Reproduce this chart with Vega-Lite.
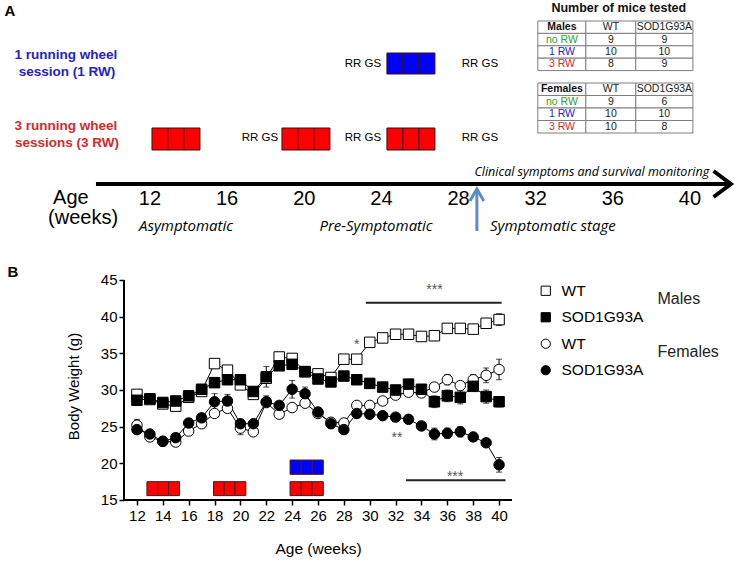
{
  "$schema": "https://vega.github.io/schema/vega-lite/v6.json",
  "width": 737,
  "height": 563,
  "autosize": {"type": "none"},
  "padding": 0,
  "background": "white",
  "config": {"view": {"stroke": null}, "font": "Liberation Sans"},
  "datasets": {
    "bw": [
      {"series":"Males WT","week":12,"value":29.4,"err":0.3},
      {"series":"Males WT","week":13,"value":28.7,"err":0.2},
      {"series":"Males WT","week":14,"value":28.1,"err":0.2},
      {"series":"Males WT","week":15,"value":27.8,"err":0.3},
      {"series":"Males WT","week":16,"value":29.0,"err":0.2},
      {"series":"Males WT","week":17,"value":29.8,"err":0.2},
      {"series":"Males WT","week":18,"value":33.6,"err":0.4},
      {"series":"Males WT","week":19,"value":32.7,"err":0.3},
      {"series":"Males WT","week":20,"value":30.7,"err":0.3},
      {"series":"Males WT","week":21,"value":29.4,"err":0.3},
      {"series":"Males WT","week":22,"value":31.6,"err":0.3},
      {"series":"Males WT","week":23,"value":34.5,"err":0.3},
      {"series":"Males WT","week":24,"value":34.3,"err":0.3},
      {"series":"Males WT","week":25,"value":32.5,"err":0.3},
      {"series":"Males WT","week":26,"value":32.2,"err":0.3},
      {"series":"Males WT","week":27,"value":31.7,"err":0.3},
      {"series":"Males WT","week":28,"value":34.2,"err":0.2},
      {"series":"Males WT","week":29,"value":34.2,"err":0.2},
      {"series":"Males WT","week":30,"value":36.5,"err":0.3},
      {"series":"Males WT","week":31,"value":37.1,"err":0.3},
      {"series":"Males WT","week":32,"value":37.6,"err":0.4},
      {"series":"Males WT","week":33,"value":37.6,"err":0.3},
      {"series":"Males WT","week":34,"value":37.3,"err":0.3},
      {"series":"Males WT","week":35,"value":37.4,"err":0.3},
      {"series":"Males WT","week":36,"value":38.4,"err":0.3},
      {"series":"Males WT","week":37,"value":38.4,"err":0.3},
      {"series":"Males WT","week":38,"value":38.3,"err":0.3},
      {"series":"Males WT","week":39,"value":39.1,"err":0.5},
      {"series":"Males WT","week":40,"value":39.6,"err":0.8},
      {"series":"Females WT","week":12,"value":25.2,"err":0.8},
      {"series":"Females WT","week":13,"value":23.6,"err":0.3},
      {"series":"Females WT","week":14,"value":23.0,"err":0.3},
      {"series":"Females WT","week":15,"value":22.9,"err":0.3},
      {"series":"Females WT","week":16,"value":24.4,"err":0.3},
      {"series":"Females WT","week":17,"value":25.4,"err":0.3},
      {"series":"Females WT","week":18,"value":26.8,"err":0.3},
      {"series":"Females WT","week":19,"value":27.5,"err":0.3},
      {"series":"Females WT","week":20,"value":24.8,"err":0.9},
      {"series":"Females WT","week":21,"value":24.3,"err":0.3},
      {"series":"Females WT","week":22,"value":28.3,"err":0.3},
      {"series":"Females WT","week":23,"value":26.7,"err":0.3},
      {"series":"Females WT","week":24,"value":27.6,"err":0.3},
      {"series":"Females WT","week":25,"value":28.2,"err":0.3},
      {"series":"Females WT","week":26,"value":26.8,"err":0.3},
      {"series":"Females WT","week":27,"value":25.6,"err":0.3},
      {"series":"Females WT","week":28,"value":25.5,"err":0.3},
      {"series":"Females WT","week":29,"value":27.9,"err":0.3},
      {"series":"Females WT","week":30,"value":27.9,"err":0.3},
      {"series":"Females WT","week":31,"value":28.5,"err":0.3},
      {"series":"Females WT","week":32,"value":29.3,"err":0.3},
      {"series":"Females WT","week":33,"value":29.7,"err":0.3},
      {"series":"Females WT","week":34,"value":29.6,"err":0.3},
      {"series":"Females WT","week":35,"value":30.4,"err":0.5},
      {"series":"Females WT","week":36,"value":31.4,"err":0.7},
      {"series":"Females WT","week":37,"value":30.6,"err":0.5},
      {"series":"Females WT","week":38,"value":31.4,"err":0.7},
      {"series":"Females WT","week":39,"value":32.0,"err":1.0},
      {"series":"Females WT","week":40,"value":32.8,"err":1.4},
      {"series":"Males SOD1G93A","week":12,"value":28.6,"err":0.3},
      {"series":"Males SOD1G93A","week":13,"value":28.8,"err":0.3},
      {"series":"Males SOD1G93A","week":14,"value":28.3,"err":0.3},
      {"series":"Males SOD1G93A","week":15,"value":28.5,"err":0.3},
      {"series":"Males SOD1G93A","week":16,"value":29.2,"err":0.3},
      {"series":"Males SOD1G93A","week":17,"value":30.1,"err":0.3},
      {"series":"Males SOD1G93A","week":18,"value":31.0,"err":0.5},
      {"series":"Males SOD1G93A","week":19,"value":31.4,"err":0.5},
      {"series":"Males SOD1G93A","week":20,"value":31.4,"err":0.5},
      {"series":"Males SOD1G93A","week":21,"value":29.8,"err":0.4},
      {"series":"Males SOD1G93A","week":22,"value":31.8,"err":1.4},
      {"series":"Males SOD1G93A","week":23,"value":33.3,"err":0.6},
      {"series":"Males SOD1G93A","week":24,"value":33.5,"err":0.4},
      {"series":"Males SOD1G93A","week":25,"value":32.5,"err":0.3},
      {"series":"Males SOD1G93A","week":26,"value":31.5,"err":0.3},
      {"series":"Males SOD1G93A","week":27,"value":31.1,"err":0.3},
      {"series":"Males SOD1G93A","week":28,"value":31.9,"err":0.3},
      {"series":"Males SOD1G93A","week":29,"value":31.4,"err":0.3},
      {"series":"Males SOD1G93A","week":30,"value":30.9,"err":0.3},
      {"series":"Males SOD1G93A","week":31,"value":30.4,"err":0.3},
      {"series":"Males SOD1G93A","week":32,"value":30.0,"err":0.3},
      {"series":"Males SOD1G93A","week":33,"value":30.8,"err":0.6},
      {"series":"Males SOD1G93A","week":34,"value":30.1,"err":0.5},
      {"series":"Males SOD1G93A","week":35,"value":28.4,"err":0.8},
      {"series":"Males SOD1G93A","week":36,"value":29.2,"err":0.8},
      {"series":"Males SOD1G93A","week":37,"value":29.0,"err":0.9},
      {"series":"Males SOD1G93A","week":38,"value":30.5,"err":0.6},
      {"series":"Males SOD1G93A","week":39,"value":29.1,"err":0.9},
      {"series":"Males SOD1G93A","week":40,"value":28.4,"err":0.7},
      {"series":"Females SOD1G93A","week":12,"value":24.6,"err":0.5},
      {"series":"Females SOD1G93A","week":13,"value":24.0,"err":0.3},
      {"series":"Females SOD1G93A","week":14,"value":23.0,"err":0.3},
      {"series":"Females SOD1G93A","week":15,"value":23.5,"err":0.3},
      {"series":"Females SOD1G93A","week":16,"value":25.5,"err":0.3},
      {"series":"Females SOD1G93A","week":17,"value":26.2,"err":0.4},
      {"series":"Females SOD1G93A","week":18,"value":28.4,"err":1.1},
      {"series":"Females SOD1G93A","week":19,"value":28.5,"err":0.9},
      {"series":"Females SOD1G93A","week":20,"value":25.4,"err":0.3},
      {"series":"Females SOD1G93A","week":21,"value":25.4,"err":0.5},
      {"series":"Females SOD1G93A","week":22,"value":28.4,"err":0.8},
      {"series":"Females SOD1G93A","week":23,"value":27.9,"err":0.3},
      {"series":"Females SOD1G93A","week":24,"value":30.1,"err":1.2},
      {"series":"Females SOD1G93A","week":25,"value":29.5,"err":0.9},
      {"series":"Females SOD1G93A","week":26,"value":27.0,"err":0.3},
      {"series":"Females SOD1G93A","week":27,"value":25.4,"err":0.3},
      {"series":"Females SOD1G93A","week":28,"value":24.6,"err":0.3},
      {"series":"Females SOD1G93A","week":29,"value":26.8,"err":0.3},
      {"series":"Females SOD1G93A","week":30,"value":26.7,"err":0.3},
      {"series":"Females SOD1G93A","week":31,"value":26.5,"err":0.3},
      {"series":"Females SOD1G93A","week":32,"value":26.3,"err":0.3},
      {"series":"Females SOD1G93A","week":33,"value":26.0,"err":0.5},
      {"series":"Females SOD1G93A","week":34,"value":25.1,"err":0.4},
      {"series":"Females SOD1G93A","week":35,"value":24.0,"err":0.8},
      {"series":"Females SOD1G93A","week":36,"value":24.1,"err":0.7},
      {"series":"Females SOD1G93A","week":37,"value":24.3,"err":0.7},
      {"series":"Females SOD1G93A","week":38,"value":23.6,"err":0.6},
      {"series":"Females SOD1G93A","week":39,"value":22.8,"err":0.5},
      {"series":"Females SOD1G93A","week":40,"value":19.8,"err":1.0}
    ],
    "axesB": [
      {"week":11,"value":15,"week2":41,"value2":15},
      {"week":11,"value":15,"week2":11,"value2":45}
    ],
    "sigBars": [
      {"week":29.7,"value":41.9,"week2":40.2,"value2":41.9},
      {"week":32.8,"value":17.7,"week2":40.5,"value2":17.7}
    ],
    "sigText": [
      {"label":"***","week":35.0,"value":43.6},
      {"label":"*","week":29.0,"value":36.2},
      {"label":"**","week":32.1,"value":23.4},
      {"label":"***","week":36.6,"value":18.2}
    ],
    "sexText": [
      {"label":"Males","week":52.25,"value":42.4},
      {"label":"Females","week":52.25,"value":35.2}
    ],
    "blocksB": [
      {"session":"3 RW","week":12.77,"week2":13.61,"value":15.6,"value2":17.5},
      {"session":"3 RW","week":13.61,"week2":14.45,"value":15.6,"value2":17.5},
      {"session":"3 RW","week":14.45,"week2":15.29,"value":15.6,"value2":17.5},
      {"session":"3 RW","week":17.92,"week2":18.75,"value":15.6,"value2":17.5},
      {"session":"3 RW","week":18.75,"week2":19.58,"value":15.6,"value2":17.5},
      {"session":"3 RW","week":19.58,"week2":20.42,"value":15.6,"value2":17.5},
      {"session":"3 RW","week":23.84,"week2":24.70,"value":15.6,"value2":17.5},
      {"session":"3 RW","week":24.70,"week2":25.55,"value":15.6,"value2":17.5},
      {"session":"3 RW","week":25.55,"week2":26.41,"value":15.6,"value2":17.5},
      {"session":"1 RW","week":23.84,"week2":24.70,"value":18.5,"value2":20.45},
      {"session":"1 RW","week":24.70,"week2":25.55,"value":18.5,"value2":20.45},
      {"session":"1 RW","week":25.55,"week2":26.41,"value":18.5,"value2":20.45}
    ],
    "timeline": [{"pos":9.2,"pos2":41.95,"row":184}],
    "arrowhead": [
      {"pos":41.22,"row":171,"o":1},
      {"pos":42.12,"row":184,"o":2},
      {"pos":41.22,"row":197,"o":3}
    ],
    "blueShaft": [{"pos":28.95,"row":189,"row2":231}],
    "blueHead": [
      {"pos":28.59,"row":201,"o":1},
      {"pos":28.95,"row":189,"o":2},
      {"pos":29.31,"row":201,"o":3}
    ],
    "blocksA": [
      {"session":"3 RW","pos":12.104,"pos2":12.933,"row":128,"row2":150},
      {"session":"3 RW","pos":12.933,"pos2":13.763,"row":128,"row2":150},
      {"session":"3 RW","pos":13.763,"pos2":14.592,"row":128,"row2":150},
      {"session":"3 RW","pos":18.843,"pos2":19.673,"row":128,"row2":150},
      {"session":"3 RW","pos":19.673,"pos2":20.502,"row":128,"row2":150},
      {"session":"3 RW","pos":20.502,"pos2":21.331,"row":128,"row2":150},
      {"session":"3 RW","pos":24.286,"pos2":25.116,"row":128,"row2":150},
      {"session":"3 RW","pos":25.116,"pos2":25.945,"row":128,"row2":150},
      {"session":"3 RW","pos":25.945,"pos2":26.775,"row":128,"row2":150},
      {"session":"1 RW","pos":24.286,"pos2":25.116,"row":53,"row2":74},
      {"session":"1 RW","pos":25.116,"pos2":25.945,"row":53,"row2":74},
      {"session":"1 RW","pos":25.945,"pos2":26.775,"row":53,"row2":74}
    ],
    "tableCells": [
      {"pos":32.11,"pos2":34.60,"row":21,"row2":33.4},{"pos":34.60,"pos2":37.19,"row":21,"row2":33.4},{"pos":37.19,"pos2":40.15,"row":21,"row2":33.4},
      {"pos":32.11,"pos2":34.60,"row":33.4,"row2":45.8},{"pos":34.60,"pos2":37.19,"row":33.4,"row2":45.8},{"pos":37.19,"pos2":40.15,"row":33.4,"row2":45.8},
      {"pos":32.11,"pos2":34.60,"row":45.8,"row2":58.2},{"pos":34.60,"pos2":37.19,"row":45.8,"row2":58.2},{"pos":37.19,"pos2":40.15,"row":45.8,"row2":58.2},
      {"pos":32.11,"pos2":34.60,"row":58.2,"row2":70.6},{"pos":34.60,"pos2":37.19,"row":58.2,"row2":70.6},{"pos":37.19,"pos2":40.15,"row":58.2,"row2":70.6},
      {"pos":32.11,"pos2":34.60,"row":83,"row2":95.5},{"pos":34.60,"pos2":37.19,"row":83,"row2":95.5},{"pos":37.19,"pos2":40.15,"row":83,"row2":95.5},
      {"pos":32.11,"pos2":34.60,"row":95.5,"row2":108},{"pos":34.60,"pos2":37.19,"row":95.5,"row2":108},{"pos":37.19,"pos2":40.15,"row":95.5,"row2":108},
      {"pos":32.11,"pos2":34.60,"row":108,"row2":120.5},{"pos":34.60,"pos2":37.19,"row":108,"row2":120.5},{"pos":37.19,"pos2":40.15,"row":108,"row2":120.5},
      {"pos":32.11,"pos2":34.60,"row":120.5,"row2":133},{"pos":34.60,"pos2":37.19,"row":120.5,"row2":133},{"pos":37.19,"pos2":40.15,"row":120.5,"row2":133}
    ],
    "tableHeads": [
      {"label":"Males","pos":33.36,"row":27.2},
      {"label":"Females","pos":33.36,"row":89.25}
    ],
    "tableText": [
      {"label":"WT","pos":35.90,"row":27.2,"grp":"plain"},
      {"label":"SOD1G93A","pos":38.67,"row":27.2,"grp":"plain"},
      {"label":"no RW","pos":33.36,"row":39.6,"grp":"no RW"},
      {"label":"9","pos":35.90,"row":39.6,"grp":"plain"},
      {"label":"9","pos":38.67,"row":39.6,"grp":"plain"},
      {"label":"1 RW","pos":33.36,"row":52,"grp":"1 RW"},
      {"label":"10","pos":35.90,"row":52,"grp":"plain"},
      {"label":"10","pos":38.67,"row":52,"grp":"plain"},
      {"label":"3 RW","pos":33.36,"row":64.4,"grp":"3 RW"},
      {"label":"8","pos":35.90,"row":64.4,"grp":"plain"},
      {"label":"9","pos":38.67,"row":64.4,"grp":"plain"},
      {"label":"WT","pos":35.90,"row":89.25,"grp":"plain"},
      {"label":"SOD1G93A","pos":38.67,"row":89.25,"grp":"plain"},
      {"label":"no RW","pos":33.36,"row":101.75,"grp":"no RW"},
      {"label":"9","pos":35.90,"row":101.75,"grp":"plain"},
      {"label":"6","pos":38.67,"row":101.75,"grp":"plain"},
      {"label":"1 RW","pos":33.36,"row":114.25,"grp":"1 RW"},
      {"label":"10","pos":35.90,"row":114.25,"grp":"plain"},
      {"label":"10","pos":38.67,"row":114.25,"grp":"plain"},
      {"label":"3 RW","pos":33.36,"row":126.75,"grp":"3 RW"},
      {"label":"10","pos":35.90,"row":126.75,"grp":"plain"},
      {"label":"8","pos":38.67,"row":126.75,"grp":"plain"}
    ],
    "tableTitle": [{"label":"Number of mice tested","pos":36.31,"row":8}],
    "rwLabels": [
      {"label":"1 running wheel","pos":7.645,"row":55,"grp":"1 RW"},
      {"label":"session (1 RW)","pos":7.70,"row":72,"grp":"1 RW"},
      {"label":"3 running wheel","pos":7.645,"row":126,"grp":"3 RW"},
      {"label":"sessions (3 RW)","pos":7.70,"row":143,"grp":"3 RW"}
    ],
    "rrgs": [
      {"label":"RR GS","pos":17.70,"row":138},
      {"label":"RR GS","pos":23.04,"row":138},
      {"label":"RR GS","pos":29.11,"row":138},
      {"label":"RR GS","pos":23.04,"row":64},
      {"label":"RR GS","pos":29.11,"row":64}
    ],
    "ageLabels": [
      {"label":"12","pos":12,"row":199},
      {"label":"16","pos":16,"row":199},
      {"label":"20","pos":20,"row":199},
      {"label":"24","pos":24,"row":199},
      {"label":"28","pos":28,"row":199},
      {"label":"32","pos":32,"row":199},
      {"label":"36","pos":36,"row":199},
      {"label":"40","pos":40,"row":199},
      {"label":"Age","pos":7.90,"row":198},
      {"label":"(weeks)","pos":8.53,"row":218}
    ],
    "stages": [
      {"label":"Asymptomatic","pos":13.87,"row":226},
      {"label":"Pre-Symptomatic","pos":23.72,"row":226},
      {"label":"Symptomatic stage","pos":32.89,"row":226}
    ],
    "clinical": [{"label":"Clinical symptoms and survival monitoring","pos":34.91,"row":172}],
    "panelLetters": [
      {"label":"A","pos":4.74,"row":11},
      {"label":"B","pos":4.90,"row":272}
    ]
  },
  "resolve": {"scale": {"x": "independent", "y": "independent", "color": "independent", "fill": "independent", "shape": "independent", "stroke": "independent"}},
  "layer": [
    {
      "encoding": {
        "x": {"field": "pos", "type": "quantitative", "scale": {"domain": [4.224, 42.437], "nice": false, "zero": false}, "axis": null},
        "y": {"field": "row", "type": "quantitative", "scale": {"domain": [0, 563], "reverse": true, "nice": false, "zero": false}, "axis": null}
      },
      "layer": [
        {"data": {"name": "timeline"}, "mark": {"type": "rule", "strokeWidth": 4, "color": "black"}, "encoding": {"x2": {"field": "pos2"}}},
        {"data": {"name": "arrowhead"}, "mark": {"type": "line", "strokeWidth": 4, "color": "black", "strokeJoin": "miter"}, "encoding": {"order": {"field": "o"}}},
        {"data": {"name": "blueShaft"}, "mark": {"type": "rule", "strokeWidth": 3, "color": "#5b8cc8"}, "encoding": {"y2": {"field": "row2"}}},
        {"data": {"name": "blueHead"}, "mark": {"type": "line", "strokeWidth": 3, "color": "#5b8cc8"}, "encoding": {"order": {"field": "o"}}},
        {"data": {"name": "blocksA"}, "mark": {"type": "rect", "stroke": "#3a1010", "strokeWidth": 1},
         "encoding": {"x2": {"field": "pos2"}, "y2": {"field": "row2"},
           "fill": {"field": "session", "type": "nominal", "scale": {"domain": ["1 RW", "3 RW"], "range": ["#0000ff", "#ff0000"]}, "legend": null}}},
        {"data": {"name": "tableCells"}, "mark": {"type": "rect", "fill": "white", "stroke": "#7f7f7f", "strokeWidth": 1},
         "encoding": {"x2": {"field": "pos2"}, "y2": {"field": "row2"}}},
        {"data": {"name": "tableHeads"}, "mark": {"type": "text", "fontSize": 10.5, "fontWeight": "bold", "color": "#111"}, "encoding": {"text": {"field": "label"}}},
        {"data": {"name": "tableText"}, "mark": {"type": "text", "fontSize": 10.5},
         "encoding": {"text": {"field": "label"},
           "color": {"field": "grp", "type": "nominal", "scale": {"domain": ["no RW", "1 RW", "3 RW", "plain"], "range": ["#2fa12f", "#2323c8", "#d42a2a", "#222222"]}, "legend": null}}},
        {"data": {"name": "tableTitle"}, "mark": {"type": "text", "fontSize": 12.5, "fontWeight": "bold", "color": "#111"}, "encoding": {"text": {"field": "label"}}},
        {"data": {"name": "rwLabels"}, "mark": {"type": "text", "fontSize": 13.5, "fontWeight": "bold"},
         "encoding": {"text": {"field": "label"},
           "color": {"field": "grp", "type": "nominal", "scale": {"domain": ["no RW", "1 RW", "3 RW", "plain"], "range": ["#2fa12f", "#2323c8", "#d42a2a", "#222222"]}, "legend": null}}},
        {"data": {"name": "rrgs"}, "mark": {"type": "text", "fontSize": 11.5, "color": "black"}, "encoding": {"text": {"field": "label"}}},
        {"data": {"name": "ageLabels"}, "mark": {"type": "text", "fontSize": 20, "color": "black"}, "encoding": {"text": {"field": "label"}}},
        {"data": {"name": "stages"}, "mark": {"type": "text", "fontSize": 15, "font": "Open Sans", "fontStyle": "italic", "color": "black"}, "encoding": {"text": {"field": "label"}}},
        {"data": {"name": "clinical"}, "mark": {"type": "text", "fontSize": 12.5, "font": "Open Sans", "fontStyle": "italic", "color": "black"}, "encoding": {"text": {"field": "label"}}},
        {"data": {"name": "panelLetters"}, "mark": {"type": "text", "fontSize": 15, "fontWeight": "bold", "color": "black"}, "encoding": {"text": {"field": "label"}}}
      ]
    },
    {
      "encoding": {
        "x": {"field": "week", "type": "quantitative", "scale": {"domain": [1.412, 58.397], "nice": false, "zero": false},
              "axis": {"orient": "bottom", "offset": -63, "values": [12,14,16,18,20,22,24,26,28,30,32,34,36,38,40], "domain": false, "grid": false,
                       "ticks": true, "tickSize": 5, "tickWidth": 1.5, "tickColor": "black", "labelFontSize": 15, "labelColor": "black", "labelPadding": 3,
                       "labelFont": "Liberation Sans", "title": "Age (weeks)", "titleFont": "Liberation Sans", "titleFontSize": 15.5, "titleFontWeight": "normal",
                       "titleColor": "black", "titleX": 318, "titleY": 48, "titleBaseline": "middle", "titleAnchor": null}},
        "y": {"field": "value", "type": "quantitative", "scale": {"domain": [6.409, 83.18], "nice": false, "zero": false},
              "axis": {"orient": "left", "offset": -124, "values": [15,20,25,30,35,40,45], "domain": false, "grid": false,
                       "ticks": true, "tickSize": 5, "tickWidth": 1.5, "tickColor": "black", "labelFontSize": 15, "labelColor": "black", "labelPadding": 2,
                       "labelFont": "Liberation Sans", "title": "Body Weight (g)", "titleFont": "Liberation Sans", "titleFontSize": 15, "titleFontWeight": "normal",
                       "titleColor": "black", "titleX": -50.5, "titleY": 386, "titleBaseline": "middle", "titleAngle": -90}}
      },
      "layer": [
        {"data": {"name": "axesB"}, "mark": {"type": "rule", "strokeWidth": 2, "color": "black"}, "encoding": {"x2": {"field": "week2"}, "y2": {"field": "value2"}}},
        {"data": {"name": "bw"}, "mark": {"type": "line", "color": "black", "strokeWidth": 1}, "encoding": {"detail": {"field": "series"}}},
        {"data": {"name": "bw"}, "mark": {"type": "errorbar", "ticks": true, "size": 6, "thickness": 1, "color": "black"}, "encoding": {"yError": {"field": "err"}}},
        {"data": {"name": "bw"}, "mark": {"type": "point", "filled": true, "size": 110, "strokeWidth": 1, "opacity": 1},
         "encoding": {
           "shape": {"field": "series", "type": "nominal",
             "scale": {"domain": ["Males WT", "Males SOD1G93A", "Females WT", "Females SOD1G93A"], "range": ["square", "square", "circle", "circle"]},
             "legend": {"orient": "none", "legendX": 538, "legendY": 283, "title": null, "labelExpr": "split(datum.label, ' ')[1]", "labelFontSize": 15.5, "labelFont": "Liberation Sans", "labelColor": "black", "symbolSize": 85, "symbolStrokeWidth": 1, "rowPadding": 9.5, "labelOffset": 8, "padding": 0}},
           "fill": {"field": "series", "type": "nominal",
             "scale": {"domain": ["Males WT", "Males SOD1G93A", "Females WT", "Females SOD1G93A"], "range": ["white", "black", "white", "black"]},
             "legend": {"orient": "none", "legendX": 538, "legendY": 283, "title": null, "labelExpr": "split(datum.label, ' ')[1]", "labelFontSize": 15.5, "labelFont": "Liberation Sans", "labelColor": "black", "symbolSize": 85, "symbolStrokeWidth": 1, "rowPadding": 9.5, "labelOffset": 8, "padding": 0}},
           "stroke": {"field": "series", "type": "nominal",
             "scale": {"domain": ["Males WT", "Males SOD1G93A", "Females WT", "Females SOD1G93A"], "range": ["black", "black", "black", "black"]},
             "legend": {"orient": "none", "legendX": 538, "legendY": 283, "title": null, "labelExpr": "split(datum.label, ' ')[1]", "labelFontSize": 15.5, "labelFont": "Liberation Sans", "labelColor": "black", "symbolSize": 85, "symbolStrokeWidth": 1, "rowPadding": 9.5, "labelOffset": 8, "padding": 0}}
         }},
        {"data": {"name": "blocksB"}, "mark": {"type": "rect", "stroke": "#4a1a1a", "strokeWidth": 1},
         "encoding": {"x2": {"field": "week2"}, "y2": {"field": "value2"},
           "color": {"field": "session", "type": "nominal", "scale": {"domain": ["1 RW", "3 RW"], "range": ["#0000ff", "#ff0000"]}, "legend": null}}},
        {"data": {"name": "sigBars"}, "mark": {"type": "rule", "strokeWidth": 2, "color": "#222"}, "encoding": {"x2": {"field": "week2"}, "y2": {"field": "value2"}}},
        {"data": {"name": "sigText"}, "mark": {"type": "text", "fontSize": 14, "color": "#555"}, "encoding": {"text": {"field": "label"}}},
        {"data": {"name": "sexText"}, "mark": {"type": "text", "fontSize": 16, "align": "left", "color": "#222"}, "encoding": {"text": {"field": "label"}}}
      ]
    }
  ]
}
